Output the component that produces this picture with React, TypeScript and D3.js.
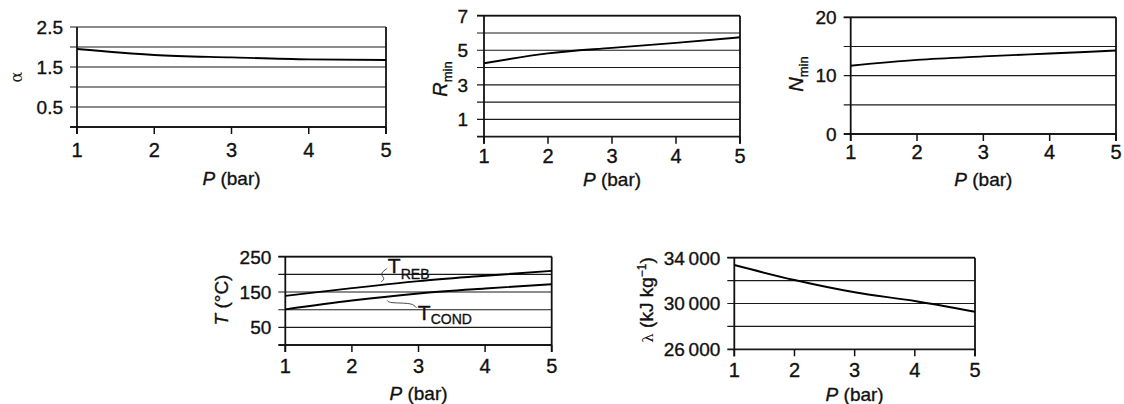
import React from "react";
import * as d3 from "d3";

// ---- data ----
const P = [1, 2, 3, 4, 5];
const xTicks = [1, 2, 3, 4, 5];

const alpha = [1.95, 1.8, 1.74, 1.69, 1.675];
const alphaTicks = [0, 0.5, 1, 1.5, 2, 2.5];
const alphaLabels = [0.5, 1.5, 2.5];

const rMin = [4.25, 4.82, 5.14, 5.43, 5.75];
const rTicks = [0, 1, 2, 3, 4, 5, 6, 7];
const rLabels = [1, 3, 5, 7];

const nMin = [11.7, 12.7, 13.3, 13.8, 14.3];
const nTicks = [0, 5, 10, 15, 20];
const nLabels = [0, 10, 20];

const tReb = [139, 161, 181, 196, 210];
const tCond = [101, 126, 146, 160, 172];
const tTicks = [0, 50, 100, 150, 200, 250];
const tLabels = [50, 150, 250];

const lambda = [33360, 32050, 30980, 30220, 29280];
const lTicks = [26000, 28000, 30000, 32000, 34000];
const lLabels = [26000, 30000, 34000];

const FONT = "'Liberation Sans', Arial, Helvetica, sans-serif";
const TXT = { fontFamily: FONT, fill: "#111", stroke: "#111", strokeWidth: 0.35 };

type Cfg = {
  left: number; right: number; top: number; bottom: number;
  yDomain: [number, number];
  ticks: number[]; labels: number[];
  fmt: (v: number) => string;
  series: number[][];
  topBorder: boolean;
  xLabelBase: number; titleBase: number; yLabelGap: number;
  yTitle: React.ReactNode;
  extra?: (x: d3.ScaleLinear<number, number>, y: d3.ScaleLinear<number, number>) => React.ReactNode;
};

function Panel({ cfg }: { cfg: Cfg }) {
  const x = d3.scaleLinear().domain([1, 5]).range([cfg.left, cfg.right]);
  const y = d3.scaleLinear().domain(cfg.yDomain).range([cfg.bottom, cfg.top]);
  const line = d3
    .line<number>()
    .x((_, i) => x(P[i]))
    .y((d) => y(d))
    .curve(d3.curveMonotoneX);
  const x0 = x(1), x1 = x(5);
  const y0 = y(cfg.yDomain[0]), y1 = y(cfg.yDomain[1]);
  return (
    <g>
      {cfg.ticks.map((t) => (
        <line key={"g" + t} x1={x0 - 7} x2={x1} y1={y(t)} y2={y(t)}
          stroke="#1a1a1a" strokeWidth={t === cfg.yDomain[0] ? 1.8 : 1.1} />
      ))}
      {cfg.topBorder && (
        <line x1={x0 - 7} x2={x1} y1={y1} y2={y1} stroke="#111" strokeWidth={1.8} />
      )}
      <line x1={x0} x2={x0} y1={y1} y2={y0 + 7} stroke="#111" strokeWidth={1.8} />
      <line x1={x1} x2={x1} y1={y1} y2={y0 + 7} stroke="#111" strokeWidth={1.8} />
      {xTicks.map((t) => (
        <line key={"xt" + t} x1={x(t)} x2={x(t)} y1={y0} y2={y0 + 7} stroke="#111" strokeWidth={1.5} />
      ))}
      {cfg.series.map((s, i) => (
        <path key={"s" + i} d={line(s) || ""} fill="none" stroke="#000" strokeWidth={1.9} />
      ))}
      {cfg.labels.map((t) => (
        <text key={"yl" + t} x={x0 - cfg.yLabelGap} y={y(t)} dy="0.36em" textAnchor="end"
          fontSize={19} {...TXT}>{cfg.fmt(t)}</text>
      ))}
      {xTicks.map((t) => (
        <text key={"xl" + t} x={x(t)} y={cfg.xLabelBase} textAnchor="middle"
          fontSize={20} {...TXT}>{t}</text>
      ))}
      <text x={(x0 + x1) / 2} y={cfg.titleBase} textAnchor="middle" fontSize={19} {...TXT}>
        <tspan fontStyle="italic">P</tspan> (bar)
      </text>
      {cfg.yTitle}
      {cfg.extra && cfg.extra(x, y)}
    </g>
  );
}

const rot = (cx: number, cy: number) => `translate(${cx},${cy}) rotate(-90)`;

const fmtNum = (v: number) => String(v);
const fmtL = (v: number) => d3.format(",")(v).replace(",", "\u2009");

const panels: Cfg[] = [
  {
    left: 77, right: 386, top: 27, bottom: 127, yDomain: [0, 2.5],
    ticks: alphaTicks, labels: alphaLabels, fmt: fmtNum, series: [alpha],
    topBorder: false, xLabelBase: 157, titleBase: 185, yLabelGap: 14,
    yTitle: (
      <text transform={rot(16, 77)} textAnchor="middle" dy="0.35em"
        fontFamily="'DejaVu Serif', serif" fontSize={16} fill="#222">α</text>
    ),
  },
  {
    left: 484, right: 740, top: 15.7, bottom: 136.7, yDomain: [0, 7],
    ticks: rTicks, labels: rLabels, fmt: fmtNum, series: [rMin],
    topBorder: true, xLabelBase: 163, titleBase: 186, yLabelGap: 16,
    yTitle: (
      <text transform={rot(440, 79)} textAnchor="middle" dy="0.35em" fontSize={20} {...TXT}>
        <tspan fontStyle="italic">R</tspan>
        <tspan fontSize={13} dy={5}>min</tspan>
      </text>
    ),
  },
  {
    left: 850.7, right: 1116, top: 17.3, bottom: 134, yDomain: [0, 20],
    ticks: nTicks, labels: nLabels, fmt: fmtNum, series: [nMin],
    topBorder: true, xLabelBase: 159, titleBase: 186, yLabelGap: 14,
    yTitle: (
      <text transform={rot(796, 74)} textAnchor="middle" dy="0.35em" fontSize={20} {...TXT}>
        <tspan fontStyle="italic">N</tspan>
        <tspan fontSize={13} dy={5}>min</tspan>
      </text>
    ),
  },
  {
    left: 285.3, right: 551.7, top: 256.7, bottom: 345, yDomain: [0, 250],
    ticks: tTicks, labels: tLabels, fmt: fmtNum, series: [tReb, tCond],
    topBorder: true, xLabelBase: 373, titleBase: 400, yLabelGap: 14,
    yTitle: (
      <text transform={rot(221, 300)} textAnchor="middle" dy="0.35em" fontSize={19} {...TXT}>
        <tspan fontStyle="italic">T</tspan> (°C)
      </text>
    ),
    extra: (x, y) => {
      const sq = d3.line<[number, number]>().x((d) => x(d[0])).y((d) => y(d[1])).curve(d3.curveBasis);
      const rebLeader: [number, number][] = [[2.44, 179], [2.5, 188], [2.43, 199], [2.47, 209], [2.53, 217]];
      const condLeader: [number, number][] = [[2.53, 126], [2.56, 120], [2.7, 119], [2.85, 118], [2.93, 114], [2.97, 105]];
      return (
        <g>
          <path d={sq(rebLeader) || ""} fill="none" stroke="#333" strokeWidth={0.9} />
          <path d={sq(condLeader) || ""} fill="none" stroke="#333" strokeWidth={0.9} />
          <text x={x(2.54)} y={y(204)} fontSize={21} {...TXT}>
            T<tspan fontSize={14} dy={6}>REB</tspan>
          </text>
          <text x={x(2.99)} y={y(71)} fontSize={21} {...TXT}>
            T<tspan fontSize={14} dy={4}>COND</tspan>
          </text>
        </g>
      );
    },
  },
  {
    left: 734.3, right: 975, top: 257.7, bottom: 349.3, yDomain: [26000, 34000],
    ticks: lTicks, labels: lLabels, fmt: fmtL, series: [lambda],
    topBorder: true, xLabelBase: 377, titleBase: 401, yLabelGap: 14,
    yTitle: (
      <text transform={rot(646, 300)} textAnchor="middle" dy="0.35em" fontSize={19} {...TXT}>
        <tspan fontFamily="'DejaVu Serif', serif" fontSize={15} strokeWidth={0}>λ</tspan> (kJ kg
        <tspan fontSize={12} dy={-7}>−1</tspan>
        <tspan dy={7}>)</tspan>
      </text>
    ),
  },
];

export default function App() {
  return (
    <svg width={1124} height={404} viewBox="0 0 1124 404"
      style={{ position: "absolute", left: 0, top: 0, background: "#fff" }}>
      <rect x={0} y={0} width={1124} height={404} fill="#fff" />
      {panels.map((p, i) => (
        <Panel key={i} cfg={p} />
      ))}
    </svg>
  );
}
